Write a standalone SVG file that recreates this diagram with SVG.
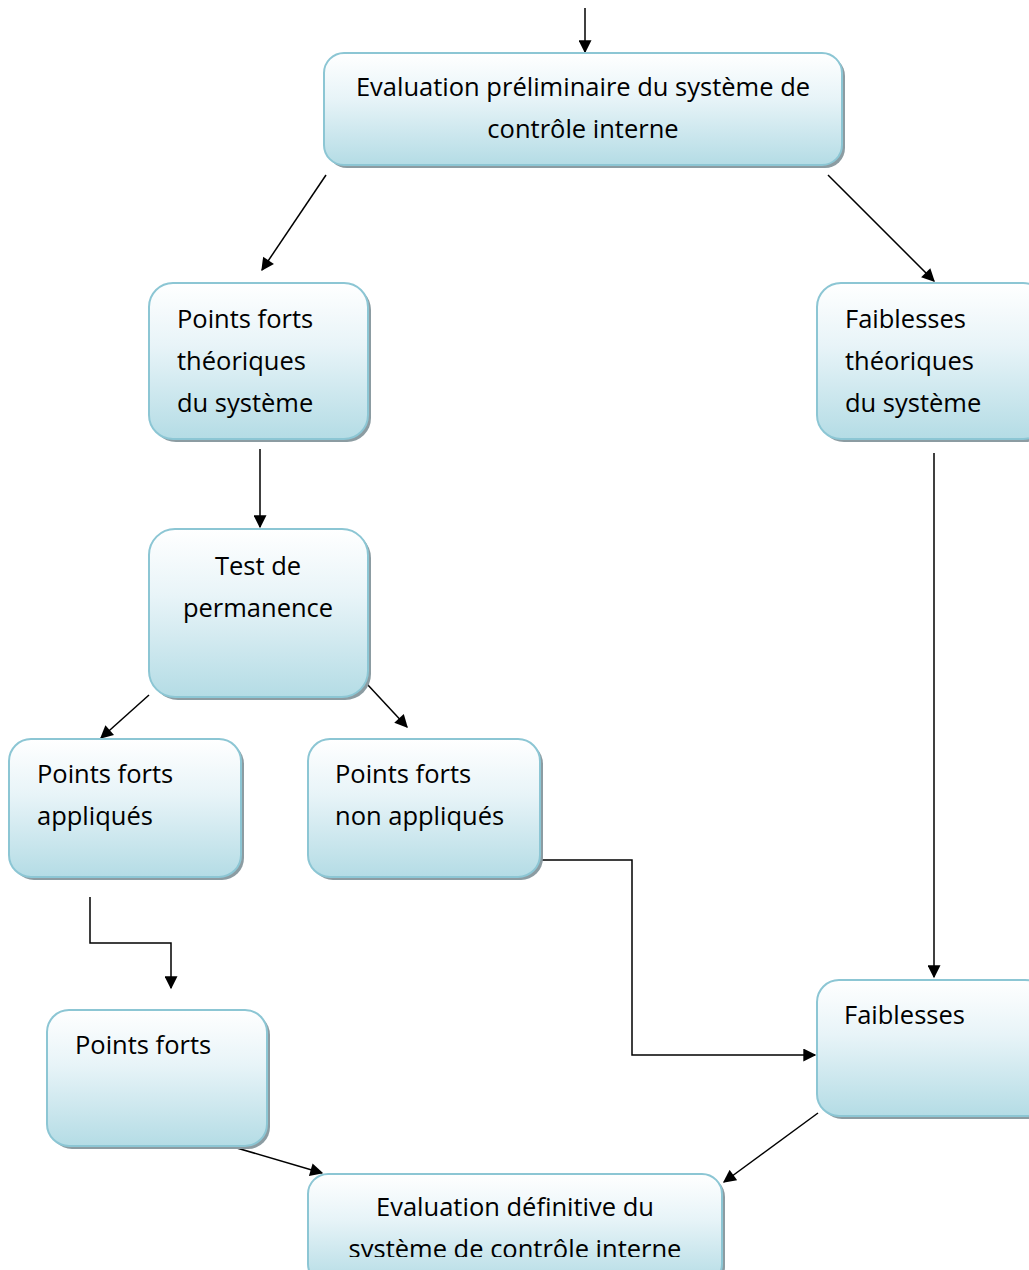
<svg xmlns="http://www.w3.org/2000/svg" width="1029" height="1270" viewBox="0 0 1029 1270">
  <defs>
    <linearGradient id="fill" x1="0" y1="0" x2="0" y2="1">
      <stop offset="0" stop-color="#ffffff"/>
      <stop offset="0.4" stop-color="#e8f4f8"/>
      <stop offset="1" stop-color="#b4dce5"/>
    </linearGradient>
    <marker id="arrow" viewBox="0 0 10 10" refX="9" refY="5" markerWidth="14" markerHeight="13" markerUnits="userSpaceOnUse" orient="auto">
      <path d="M0,0 L10,5 L0,10 z" fill="#000"/>
    </marker>
    <clipPath id="clipBottom">
      <rect x="300" y="1170" width="430" height="87"/>
    </clipPath>
    <style>
      .shadow { fill: #8c9ca2; }
      .box { fill: url(#fill); stroke: #8cc6d4; stroke-width: 2; }
      .label { font-family: "Open Sans", "Liberation Sans", Arial, sans-serif; font-size: 25.5px; fill: #000; }
      .mid { text-anchor: middle; }
      .conn { fill: none; stroke: #000; stroke-width: 1.5; marker-end: url(#arrow); }
    </style>
  </defs>

  <!-- connectors -->
  <g id="connectors">
    <line class="conn" x1="585" y1="8" x2="585" y2="52"/>
    <line class="conn" x1="326" y1="175" x2="262" y2="270"/>
    <line class="conn" x1="828" y1="175" x2="934" y2="281"/>
    <line class="conn" x1="260" y1="449" x2="260" y2="527"/>
    <line class="conn" x1="934" y1="453" x2="934" y2="977"/>
    <line class="conn" x1="149" y1="695" x2="101" y2="738"/>
    <line class="conn" x1="367" y1="684" x2="407" y2="727"/>
    <polyline class="conn" points="90,897 90,943 171,943 171,988"/>
    <polyline class="conn" points="540,860 632,860 632,1055 815,1055"/>
    <line class="conn" x1="230" y1="1146" x2="322" y2="1173"/>
    <line class="conn" x1="818" y1="1113" x2="724" y2="1182"/>
  </g>

  <!-- top: preliminary evaluation -->
  <g id="node-preliminaire">
    <rect class="shadow" x="327" y="56" width="518" height="112" rx="20"/>
    <rect class="box" x="324" y="53" width="518" height="112" rx="20"/>
    <text class="label mid" x="583" y="96">Evaluation préliminaire du système de</text>
    <text class="label mid" x="583" y="138">contrôle interne</text>
  </g>

  <g id="node-points-forts-theoriques">
    <rect class="shadow" x="152" y="286" width="219" height="156" rx="24"/>
    <rect class="box" x="149" y="283" width="219" height="156" rx="24"/>
    <text class="label" x="177" y="328">Points forts</text>
    <text class="label" x="177" y="370">théoriques</text>
    <text class="label" x="177" y="412">du système</text>
  </g>

  <g id="node-faiblesses-theoriques">
    <rect class="shadow" x="820" y="286" width="230" height="156" rx="24"/>
    <rect class="box" x="817" y="283" width="230" height="156" rx="24"/>
    <text class="label" x="845" y="328">Faiblesses</text>
    <text class="label" x="845" y="370">théoriques</text>
    <text class="label" x="845" y="412">du système</text>
  </g>

  <g id="node-test-permanence">
    <rect class="shadow" x="152" y="532" width="219" height="168" rx="26"/>
    <rect class="box" x="149" y="529" width="219" height="168" rx="26"/>
    <text class="label mid" x="258" y="575">Test de</text>
    <text class="label mid" x="258" y="617">permanence</text>
  </g>

  <g id="node-points-forts-appliques">
    <rect class="shadow" x="12" y="742" width="232" height="138" rx="22"/>
    <rect class="box" x="9" y="739" width="232" height="138" rx="22"/>
    <text class="label" x="37" y="783">Points forts</text>
    <text class="label" x="37" y="825">appliqués</text>
  </g>

  <g id="node-points-forts-non-appliques">
    <rect class="shadow" x="311" y="742" width="232" height="138" rx="22"/>
    <rect class="box" x="308" y="739" width="232" height="138" rx="22"/>
    <text class="label" x="335" y="783">Points forts</text>
    <text class="label" x="335" y="825">non appliqués</text>
  </g>

  <g id="node-points-forts">
    <rect class="shadow" x="50" y="1013" width="220" height="136" rx="22"/>
    <rect class="box" x="47" y="1010" width="220" height="136" rx="22"/>
    <text class="label" x="75" y="1054">Points forts</text>
  </g>

  <g id="node-faiblesses">
    <rect class="shadow" x="820" y="983" width="230" height="136" rx="22"/>
    <rect class="box" x="817" y="980" width="230" height="136" rx="22"/>
    <text class="label" x="844" y="1024">Faiblesses</text>
  </g>

  <g id="node-definitive">
    <rect class="shadow" x="311" y="1177" width="414" height="110" rx="20"/>
    <rect class="box" x="308" y="1174" width="414" height="110" rx="20"/>
    <text class="label mid" x="515" y="1216">Evaluation définitive du</text>
    <text class="label mid" x="515" y="1258" clip-path="url(#clipBottom)">système de contrôle interne</text>
  </g>
</svg>
